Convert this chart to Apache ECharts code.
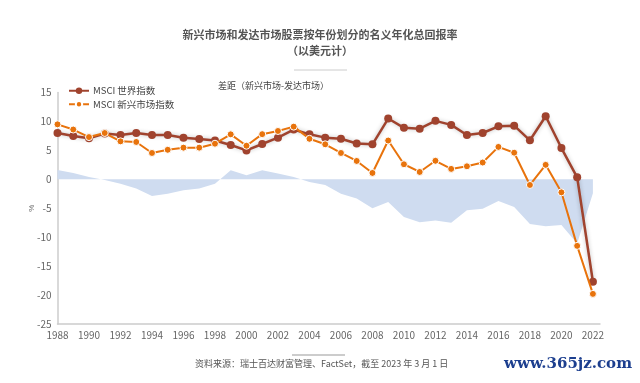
<!DOCTYPE html>
<html>
<head>
<meta charset="utf-8">
<script src="https://cdn.jsdelivr.net/npm/echarts@6/dist/echarts.min.js"></script>
<style>
html,body{margin:0;padding:0;background:#fff;}
#c{width:640px;height:383px;}
</style>
</head>
<body>
<div id="c"></div>
<script>
var years = [1988,1989,1990,1991,1992,1993,1994,1995,1996,1997,1998,1999,2000,2001,2002,2003,2004,2005,2006,2007,2008,2009,2010,2011,2012,2013,2014,2015,2016,2017,2018,2019,2020,2021,2022];
var world = [8.0,7.5,7.1,7.9,7.65,8.0,7.65,7.65,7.2,6.96,6.7,5.93,5.0,6.1,7.2,8.6,7.77,7.2,7.0,6.2,6.05,10.5,8.9,8.75,10.1,9.4,7.65,8.0,9.15,9.27,6.74,10.9,5.4,0.35,-17.7];
var em = [9.5,8.6,7.3,8.0,6.56,6.45,4.55,5.1,5.47,5.47,6.15,7.77,5.8,7.8,8.35,9.1,7.0,6.05,4.55,3.17,1.1,6.7,2.6,1.27,3.2,1.8,2.25,2.9,5.6,4.6,-0.98,2.5,-2.25,-11.5,-19.8];
var gap = [1.6,1.1,0.4,-0.1,-0.75,-1.6,-2.9,-2.5,-1.9,-1.6,-0.75,1.55,0.7,1.55,1.0,0.4,-0.45,-1.0,-2.5,-3.3,-5.0,-3.9,-6.5,-7.4,-7.1,-7.5,-5.35,-5.1,-3.75,-4.8,-7.7,-8.1,-7.9,-11.1,-2.4];
var seriesNames = ['MSCI 世界指数','MSCI 新兴市场指数'];
var gapLabel = '差距（新兴市场-发达市场）';
var titleText = '新兴市场和发达市场股票按年份划分的名义年化总回报率';
var subText = '（以美元计）';
var sourceText = '资料来源：瑞士百达财富管理、FactSet，截至 2023 年 3 月 1 日';

function pairs(arr){ return years.map(function(y,i){ return [y, arr[i]]; }); }

var font = '"Noto Sans CJK SC","Noto Sans",sans-serif';
var chart = echarts.init(document.getElementById('c'), null, {renderer:'canvas'});
chart.setOption({
  animation:false,
  backgroundColor:'#ffffff',
  title:{
    text:titleText,
    subtext:subText,
    left:'center',
    top:24,
    itemGap:5,
    textStyle:{fontSize:11,fontWeight:'bold',color:'#555',fontFamily:font},
    subtextStyle:{fontSize:11,fontWeight:'bold',color:'#555',fontFamily:font}
  },
  legend:{
    orient:'vertical',
    left:68,
    top:86,
    padding:0,
    itemGap:4,
    itemWidth:20,
    itemHeight:8,
    textStyle:{fontSize:9.5,color:'#444',fontFamily:font,padding:[0,0,0,-1]},
    data:seriesNames
  },
  grid:{left:57.5,top:92.5,right:40,bottom:59,containLabel:false},
  xAxis:{
    type:'value',
    min:1988,
    max:2022.45,
    interval:2,
    axisLine:{show:true,onZero:false,lineStyle:{color:'#cccccc',width:1.5}},
    axisTick:{show:false},
    splitLine:{show:false},
    axisLabel:{color:'#666',fontSize:10,fontFamily:font,margin:6,showMaxLabel:false,formatter:function(v){return String(v);}}
  },
  yAxis:{
    type:'value',
    min:-25,
    max:15,
    interval:5,
    name:'%',
    nameLocation:'middle',
    nameGap:22,
    nameMoveOverlap:false,
    nameRotate:90,
    nameTextStyle:{color:'#666',fontSize:8},
    axisLine:{show:true,lineStyle:{color:'#cccccc',width:1.5}},
    axisTick:{show:false},
    splitLine:{show:false},
    axisLabel:{color:'#666',fontSize:10,fontFamily:font,margin:6}
  },
  graphic:[
    {type:'text',left:218,top:81,style:{text:gapLabel,fill:'#444',fontSize:9,fontFamily:font}},
    {type:'line',shape:{x1:294,y1:70,x2:347,y2:70},style:{stroke:'#cccccc',lineWidth:1}},
    {type:'line',shape:{x1:292,y1:355,x2:345,y2:355},style:{stroke:'#999999',lineWidth:1}},
    {type:'text',left:195,top:359,style:{text:sourceText,fill:'#555',fontSize:9,fontFamily:font}},
    {type:'text',right:8,top:357,style:{text:'www.365jz.com',fill:'#1d3f8f',fontSize:15,fontWeight:'bold',fontFamily:'"DejaVu Serif","Liberation Serif",serif'}}
  ],
  series:[
    {
      name:gapLabel,
      type:'line',
      data:pairs(gap),
      symbol:'none',
      lineStyle:{width:0},
      areaStyle:{color:'#cfdcf0',opacity:1},
      z:1,
      silent:true
    },
    {
      name:seriesNames[0],
      type:'line',
      data:pairs(world),
      color:'#a0432e',
      symbol:'circle',
      symbolSize:8,
      lineStyle:{width:2.5,color:'#a0432e',shadowColor:'rgba(0,0,0,0.25)',shadowBlur:4},
      itemStyle:{color:'#a0432e'},
      z:3
    },
    {
      name:seriesNames[1],
      type:'line',
      data:pairs(em),
      color:'#e8730c',
      symbol:'circle',
      symbolSize:7,
      lineStyle:{width:2,color:'#e8730c'},
      itemStyle:{color:'#e8730c',borderColor:'#ffffff',borderWidth:1},
      z:4
    }
  ]
});
</script>
</body>
</html>
